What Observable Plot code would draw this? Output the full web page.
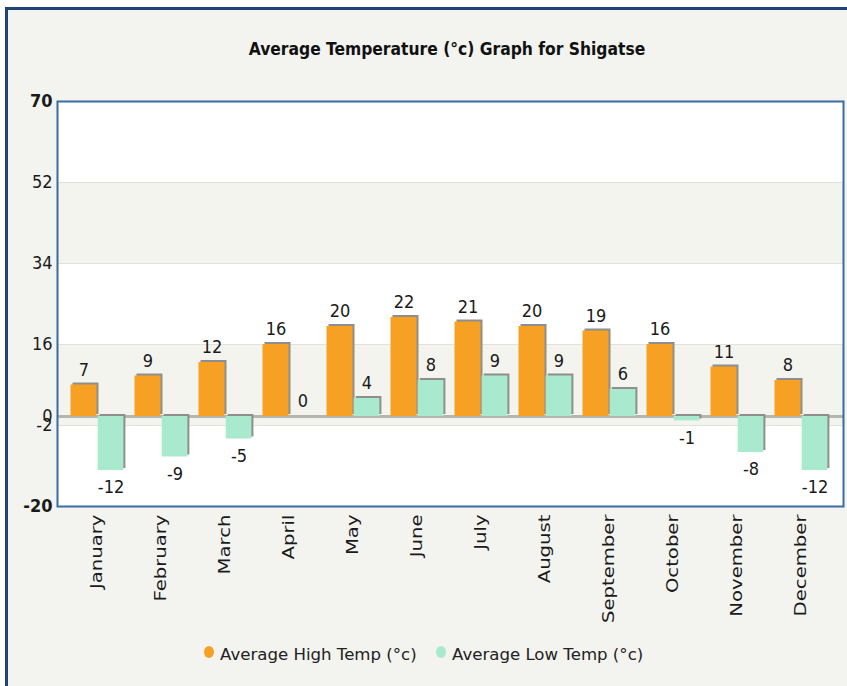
<!DOCTYPE html>
<html>
<head>
<meta charset="utf-8">
<script src="https://cdn.jsdelivr.net/npm/d3@7"></script>
<script src="https://cdn.jsdelivr.net/npm/@observablehq/plot@0.6"></script>
<style>
  html, body { margin: 0; padding: 0; background: #ffffff; width: 847px; height: 686px; overflow: hidden; }
  #panel { position: absolute; left: 5px; top: 7px; width: 900px; height: 700px;
           background: #f3f3ef; border-top: 3px solid #22427a; border-left: 3px solid #22427a; }
  #chart { position: absolute; left: 0; top: 0; }
  #title { position: absolute; top: 39px; left: 447px; transform: translateX(-50%); white-space: nowrap;
           font-family: "DejaVu Sans Condensed", "DejaVu Sans", sans-serif; font-weight: bold; font-size: 17.3px; color: #111; }
  .leg { position: absolute; top: 645px; font-family: "DejaVu Sans", sans-serif; font-size: 16.6px; color: #222; white-space: nowrap; }
  .dot { position: absolute; width: 10px; height: 12px; border-radius: 50%; }
</style>
</head>
<body>
<div id="panel"></div>
<div id="chart"></div>
<div id="title">Average Temperature (°c) Graph for Shigatse</div>
<div class="dot" id="dot0" style="left:204px; top:646px;"></div>
<div class="leg" id="leg0" style="left:220px;"></div>
<div class="dot" id="dot1" style="left:436px; top:646px;"></div>
<div class="leg" id="leg1" style="left:452px;"></div>
<script>
const months = ["January","February","March","April","May","June","July","August","September","October","November","December"];
const highTemps = [7, 9, 12, 16, 20, 22, 21, 20, 19, 16, 11, 8];
const lowTemps = [-12, -9, -5, 0, 4, 8, 9, 9, 6, -1, -8, -12];
const seriesNames = ["Average High Temp (°c)", "Average Low Temp (°c)"];
const seriesColors = ["#f6a124", "#a9eacf"];
const yTicks = [-20, -2, 0, 16, 34, 52, 70];
const boldTicks = [-20, 70];
const gridLines = [-2, 16, 34, 52];
const shadedBands = [[-2, 16], [34, 52]];

const high = months.map((m, i) => ({month: m, value: highTemps[i]}));
const low = months.map((m, i) => ({month: m, value: lowTemps[i]}));
const bands = shadedBands.map(([a, b]) => ({y1: a, y2: b}));

// bar geometry inside each month band (px)
const hiInset = {insetLeft: 5.5, insetRight: 32.5};
const loInset = {insetLeft: 32.7, insetRight: 5.6};
const textFont = "DejaVu Sans Condensed";
const fmt = d => String(d);

const plot = Plot.plot({
  width: 847,
  height: 686,
  marginTop: 101,
  marginBottom: 180,
  marginLeft: 57,
  marginRight: 4,
  style: {background: "transparent", color: "#1a1a1a"},
  x: {type: "band", domain: months, padding: 0, insetLeft: 5.3, insetRight: 7.3, label: null},
  y: {domain: [-20, 70], label: null},
  marks: [
    Plot.frame({fill: "white", stroke: "none"}),
    Plot.rect(bands, {y1: "y1", y2: "y2", fill: "#f4f4ef"}),
    Plot.ruleY(gridLines, {stroke: "#e2e2d8", strokeWidth: 1}),
    Plot.ruleY([0], {stroke: "#b4b4b0", strokeWidth: 3}),
    // shadows
    Plot.barY(high, {x: "month", y: "value", fill: "#8e8e8e", dx: 2, dy: -2, ...hiInset}),
    Plot.barY(low, {x: "month", y: "value", fill: "#8e8e8e", dx: 2, dy: -2, ...loInset}),
    // bars
    Plot.barY(high, {x: "month", y: "value", fill: seriesColors[0], ...hiInset}),
    Plot.barY(low, {x: "month", y: "value", fill: seriesColors[1], ...loInset}),
    // value labels
    Plot.text(high, {x: "month", y: "value", text: d => fmt(d.value), dx: -13.5, dy: -15,
      fontSize: 18, fontFamily: textFont, fill: "#1a1a1a"}),
    Plot.text(low, {x: "month", y: "value", text: d => fmt(d.value), dx: 13.5, dy: -15,
      fontSize: 18, fontFamily: textFont, fill: "#1a1a1a", filter: d => d.value >= 0}),
    Plot.text(low, {x: "month", y: "value", text: d => fmt(d.value), dx: 13.5, dy: 17,
      fontSize: 18, fontFamily: textFont, fill: "#1a1a1a", filter: d => d.value < 0}),
    Plot.frame({stroke: "#3a6ca3", strokeWidth: 2}),
    Plot.axisY(yTicks.filter(t => !boldTicks.includes(t)), {tickSize: 0, tickPadding: 5, fontSize: 18,
      fontFamily: textFont, tickFormat: fmt, label: null}),
    Plot.axisY(boldTicks, {tickSize: 0, tickPadding: 5, fontSize: 18, fontWeight: "bold",
      fontFamily: textFont, tickFormat: fmt, label: null}),
    Plot.axisX({tickRotate: -90, tickSize: 0, tickPadding: 8, fontSize: 15,
      fontFamily: "DejaVu Sans", label: null})
  ]
});
document.getElementById("chart").appendChild(plot);

// stretch the rotated month labels lengthwise as in the original rendering
plot.querySelectorAll('g[aria-label="x-axis tick label"] text').forEach(t => {
  const len = t.getComputedTextLength();
  t.setAttribute("textLength", (len * 1.31).toFixed(1));
  t.setAttribute("lengthAdjust", "spacingAndGlyphs");
});

// legend
seriesNames.forEach((name, i) => {
  document.getElementById("leg" + i).textContent = name;
  document.getElementById("dot" + i).style.background = seriesColors[i];
});
</script>
</body>
</html>
